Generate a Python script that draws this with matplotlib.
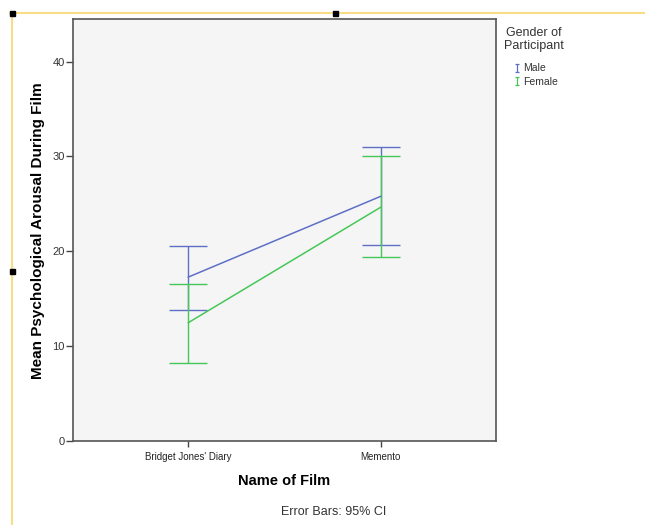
import matplotlib.pyplot as plt
from matplotlib.lines import Line2D
from matplotlib.patches import Rectangle
from matplotlib.path import Path

plt.rcParams['font.family'] = ['Liberation Sans', 'DejaVu Sans']

# Data
films = ["Bridget Jones' Diary", "Memento"]
male_mean = [17.3, 25.8]
male_low = [13.8, 20.65]
male_high = [20.6, 31.0]
female_mean = [12.5, 24.65]
female_low = [8.3, 19.45]
female_high = [16.55, 30.05]

male_col = '#5e6fc6'
female_col = '#45c757'

fig = plt.figure(figsize=(6.45, 5.25), dpi=100)
ax = fig.add_axes([73 / 645, 1 - 441.3 / 525, 423 / 645, 422 / 525])
ax.set_facecolor('#f5f5f5')

x = list(range(len(films)))
for mean, lo, hi, col in [(male_mean, male_low, male_high, male_col),
                          (female_mean, female_low, female_high, female_col)]:
    err = [[m - l for m, l in zip(mean, lo)], [h - m for m, h in zip(mean, hi)]]
    ax.errorbar(x, mean, yerr=err, color=col, lw=1.1, elinewidth=1.0,
                capsize=13.7, capthick=1.0)

ax.set_xlim(-0.6, 1.6)
ax.set_ylim(0, 44.45)
ax.set_yticks([0, 10, 20, 30, 40])
ax.set_xticks(x)
ax.set_xticklabels(films, fontsize=7, color='#222222')
ax.tick_params(axis='y', labelsize=8, labelcolor='#333333', length=5, width=1, color='#444444', pad=1)
ax.tick_params(axis='x', length=4, width=1, color='#444444', pad=4)
for s in ax.spines.values():
    s.set_color('#555555')
    s.set_linewidth(1.2)

ax.set_xlabel('Name of Film', fontsize=10.5, fontweight='bold', labelpad=8)
ax.set_ylabel('Mean Psychological Arousal During Film', fontsize=11, fontweight='bold', labelpad=5)

fig.text(334 / 645, 1 - 512 / 525, 'Error Bars: 95% CI', fontsize=9, color='#333333',
         ha='center', va='center')

# legend
fig.text(534 / 645, 1 - 33 / 525, 'Gender of', fontsize=9, color='#333333', ha='center', va='center')
fig.text(534 / 645, 1 - 46.5 / 525, 'Participant', fontsize=9, color='#333333', ha='center', va='center')
i_marker = Path([(-0.5, 1), (0.5, 1), (0, 1), (0, -1), (-0.5, -1), (0.5, -1)],
                [Path.MOVETO, Path.LINETO, Path.MOVETO, Path.LINETO, Path.MOVETO, Path.LINETO])
handles = [Line2D([], [], ls='none', marker=i_marker, markersize=6, markeredgewidth=0.9,
                  fillstyle='none', color=c) for c in (male_col, female_col)]
leg = fig.legend(handles, ['Male', 'Female'],
                 loc='upper left', bbox_to_anchor=(504 / 645, 1 - 54 / 525),
                 frameon=False, fontsize=7.5,
                 handlelength=0.6, handletextpad=0.3, labelspacing=0.35)
for t in leg.get_texts():
    t.set_color('#333333')

# viewer selection border and handles
W, H = 645, 525
fig.add_artist(Line2D([10 / W, 1], [1 - 13 / H, 1 - 13 / H], color='#f7dd85', lw=1.5))
fig.add_artist(Line2D([12 / W, 12 / W], [0, 1 - 13 / H], color='#f7dd85', lw=1.5))
for px, py in [(12, 13), (335, 13), (12, 271)]:
    fig.add_artist(Rectangle(((px - 2.5) / W, 1 - (py + 2.5) / H), 5 / W, 5 / H,
                             color='black', zorder=5))

fig.savefig('out.png', dpi=100)
